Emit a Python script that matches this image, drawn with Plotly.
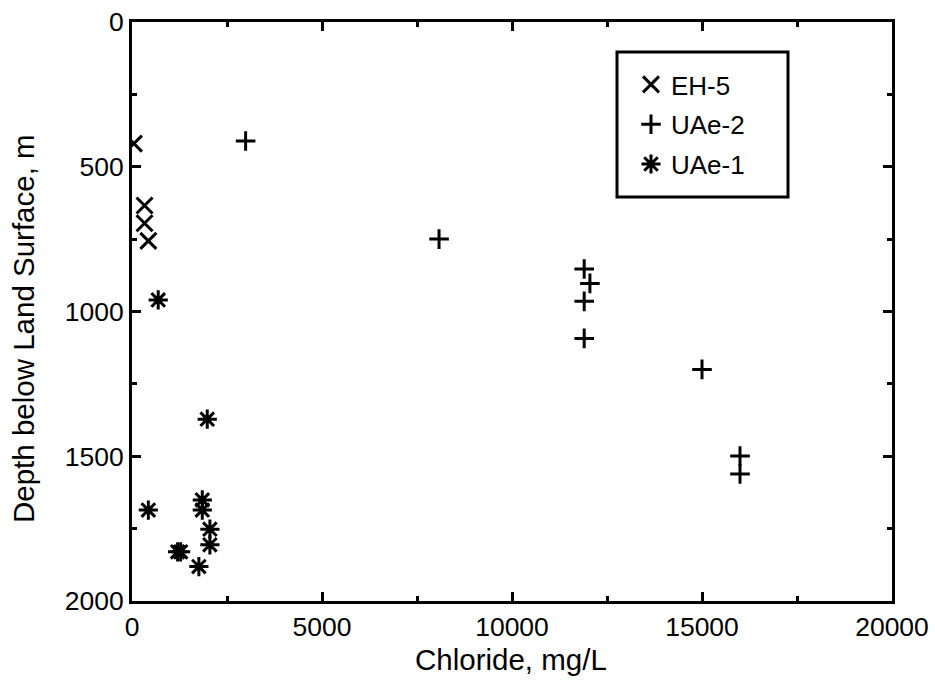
import plotly.graph_objects as go

# EH-5
eh5_cl = [50, 330, 330, 430]
eh5_depth = [420, 634, 695, 756]

# UAe-2
uae2_cl = [2990, 8080, 11900, 12050, 11900, 11900, 15000, 16000, 16000]
uae2_depth = [411, 750, 853, 903, 965, 1093, 1200, 1499, 1561]

# UAe-1
uae1_cl = [690, 1980, 430, 1850, 1850, 2050, 2050, 1200, 1280, 1760]
uae1_depth = [960, 1372, 1686, 1651, 1686, 1752, 1806, 1830, 1830, 1881]

FONT = "Liberation Sans, Arial, sans-serif"

# plot area in pixels
L, R, T, B = 132, 892, 22, 601
W, H = 935, 681
PW, PH = R - L, B - T


def px_x(p):
    return (p - L) / PW


def px_y(p):
    return 1 - (p - T) / PH


fig = go.Figure()
fig.add_trace(go.Scatter(x=eh5_cl, y=eh5_depth, mode="markers", name="EH-5", legendgroup="a",
                         marker=dict(symbol="x-thin", size=16, color="black",
                                     line=dict(width=3, color="black"))))
fig.add_trace(go.Scatter(x=uae2_cl, y=uae2_depth, mode="markers", name="UAe-2", legendgroup="b",
                         marker=dict(symbol="cross-thin", size=14, color="black",
                                     line=dict(width=3, color="black"))))
fig.add_trace(go.Scatter(x=uae1_cl, y=uae1_depth, mode="markers", name="UAe-1", legendgroup="c",
                         marker=dict(symbol="asterisk", size=16, color="black",
                                     line=dict(width=3, color="black"))))

axis_common = dict(
    showline=True, linecolor="black", linewidth=3, mirror="ticks",
    ticks="inside", ticklen=9, tickwidth=3, tickcolor="black",
    showgrid=False, zeroline=False, automargin=False,
    tickfont=dict(family=FONT, size=26.5, color="black"),
)

fig.update_xaxes(range=[0, 20000], dtick=5000, tickformat="d",
                 minor=dict(ticks="inside", dtick=2500, ticklen=5, tickwidth=3, tickcolor="black"),
                 **axis_common)
fig.update_yaxes(range=[2000, 0], dtick=500, tickformat="d",
                 minor=dict(ticks="inside", dtick=250, ticklen=5, tickwidth=3, tickcolor="black"),
                 **axis_common)

# legend frame
fig.add_shape(type="rect", xref="paper", yref="paper",
              x0=px_x(617), x1=px_x(788), y0=px_y(197), y1=px_y(52),
              line=dict(color="black", width=3), fillcolor="white", layer="below")

fig.add_annotation(text="Depth below Land Surface, m", xref="paper", yref="paper",
                   x=px_x(23), y=px_y(329), xanchor="center", yanchor="middle",
                   textangle=-90, showarrow=False,
                   font=dict(family=FONT, size=29.5, color="black"))
fig.add_annotation(text="Chloride, mg/L", xref="paper", yref="paper",
                   x=px_x(511), y=px_y(659), xanchor="center", yanchor="middle",
                   showarrow=False,
                   font=dict(family=FONT, size=29.5, color="black"))

fig.update_layout(
    width=W, height=H,
    margin=dict(l=L, r=W - R, t=T, b=H - B),
    plot_bgcolor="white", paper_bgcolor="white",
    font=dict(family=FONT, color="black"),
    legend=dict(x=px_x(631), y=px_y(61), xanchor="left", yanchor="top",
                borderwidth=0, bgcolor="rgba(0,0,0,0)",
                font=dict(family=FONT, size=26, color="black"),
                tracegroupgap=3, itemwidth=30),
)

fig.write_html("out.html")
